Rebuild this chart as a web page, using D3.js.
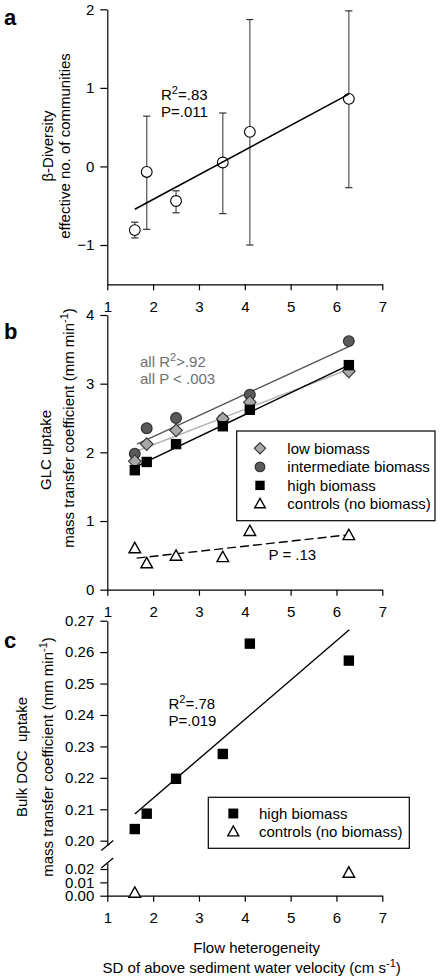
<!DOCTYPE html>
<html><head><meta charset="utf-8">
<script src="https://cdn.jsdelivr.net/npm/d3@7"></script>
<style>
html,body{margin:0;padding:0;background:#fff;}
svg text{font-family:"Liberation Sans",Arial,Helvetica,sans-serif;}
</style></head>
<body>
<svg id="chart" width="442" height="980"></svg>
<script>
// ---------------- DATA ----------------
const flowX = [1.60, 1.86, 2.50, 3.52, 4.11, 6.27];
const xTicks = [1, 2, 3, 4, 5, 6, 7];

// panel a
const betaDiv = [-0.81, -0.07, -0.44, 0.05, 0.44, 0.86];
const betaHi  = [-0.71, 0.64, -0.31, 0.68, 1.87, 1.98];
const betaLo  = [-0.91, -0.80, -0.59, -0.60, -1.00, -0.27];
const yTicksA = [-1, 0, 1, 2];
const fitA = [[1.60, -0.545], [6.27, 0.92]];

// panel b
const glcLow  = [1.87, 2.12, 2.32, 2.49, 2.73, 3.18];
const glcInt  = [1.98, 2.35, 2.50, 2.48, 2.84, 3.62];
const glcHigh = [1.74, 1.86, 2.12, 2.38, 2.62, 3.27];
const glcCtrl = [0.60, 0.38, 0.49, 0.47, 0.85, 0.79];
const yTicksB = [0, 1, 2, 3, 4];
const fitBLow  = [[1.65, 2.02], [6.27, 3.21]];
const fitBInt  = [[1.65, 2.12], [6.27, 3.54]];
const fitBHigh = [[1.65, 1.80], [6.27, 3.27]];
const fitBCtrl = [[1.64, 0.46], [6.27, 0.80]];
const legendB = ["low biomass", "intermediate biomass", "high biomass", "controls (no biomass)"];

// panel c
const docHigh = [0.2037, 0.2086, 0.2197, 0.2276, 0.2627, 0.2573];
const docCtrlX = [1.60, 6.27];
const docCtrl  = [0.002, 0.017];
const yTicksCUpper = [0.20, 0.21, 0.22, 0.23, 0.24, 0.25, 0.26, 0.27];
const yTicksCLower = [0.00, 0.01, 0.02];
const fitC = [[1.60, 0.2085], [6.28, 0.2671]];
const legendC = ["high biomass", "controls (no biomass)"];

// ---------------- SCALES ----------------
const svg = d3.select("#chart");
svg.append("rect").attr("width", 442).attr("height", 980).attr("fill", "#fff");

const FS = 15;
const x = d3.scaleLinear().domain([1, 7]).range([107.3, 382.3]);
const yA = d3.scaleLinear().domain([-1.5, 2]).range([284.3, 9.3]);
const yB = d3.scaleLinear().domain([0, 4]).range([589.7, 315]);
const yCU = d3.scaleLinear().domain([0.1985, 0.27]).range([845.4, 620.7]);
const yCL = d3.scaleLinear().domain([0, 0.0245]).range([895.7, 863]);

function styleAxis(g) {
  g.selectAll("path.domain").attr("stroke", "#000").attr("stroke-width", 1.2);
  g.selectAll(".tick line").attr("stroke", "#000").attr("stroke-width", 1.2);
  g.selectAll("text").attr("font-size", FS).attr("fill", "#000")
    .attr("font-family", '"Liberation Sans",Arial,sans-serif');
}
function xAxis(yPos) {
  const g = svg.append("g").attr("transform", `translate(0,${yPos})`)
    .call(d3.axisBottom(x).tickValues(xTicks).tickFormat(d3.format("d"))
      .tickSize(6).tickSizeOuter(0).tickPadding(11));
  styleAxis(g);
}
function yAxis(scale, ticks, fmt) {
  const g = svg.append("g").attr("transform", `translate(${x.range()[0]},0)`)
    .call(d3.axisLeft(scale).tickValues(ticks).tickFormat(fmt)
      .tickSize(7).tickSizeOuter(0).tickPadding(6));
  styleAxis(g);
  return g;
}

// marker drawing
function marker(g, type, cx, cy, k = 1) {
  if (type === "circleOpen" || type === "circleDark") {
    g.append("circle").attr("cx", cx).attr("cy", cy).attr("r", 5.4 * k)
      .attr("fill", type === "circleOpen" ? "#fff" : "#5a5a5a")
      .attr("stroke", type === "circleOpen" ? "#000" : "#2a2a2a").attr("stroke-width", 1.1);
  } else if (type === "square") {
    const s = 5.2 * k;
    g.append("rect").attr("x", cx - s).attr("y", cy - s).attr("width", 2 * s).attr("height", 2 * s)
      .attr("fill", "#000");
  } else if (type === "diamond") {
    const s = 6.3 * k;
    g.append("path").attr("d", `M${cx},${cy - s}L${cx + s},${cy}L${cx},${cy + s}L${cx - s},${cy}Z`)
      .attr("fill", "#a8a8a8").attr("stroke", "#333").attr("stroke-width", 1.1);
  } else if (type === "triangle") {
    const w = 5.8 * k, h1 = 6.2 * k, h2 = 4.2 * k;
    g.append("path").attr("d", `M${cx},${cy - h1}L${cx + w},${cy + h2}L${cx - w},${cy + h2}Z`)
      .attr("fill", "#fff").attr("stroke", "#000").attr("stroke-width", 1.4);
  }
}
function supText(parent, xPos, yPos, pre, sup, post, color, extra) {
  const t = parent.append("text").attr("x", xPos).attr("y", yPos)
    .attr("font-size", FS).attr("fill", color || "#000");
  if (extra) extra(t);
  t.append("tspan").text(pre);
  t.append("tspan").attr("font-size", 11).attr("dy", -6).text(sup);
  t.append("tspan").attr("font-size", FS).attr("dy", 6).text(post);
  return t;
}
function rotLabel(cx, cy, txt) {
  return svg.append("text").attr("transform", `translate(${cx},${cy}) rotate(-90)`)
    .attr("text-anchor", "middle").attr("font-size", FS).attr("fill", "#000").text(txt);
}
function rotSupLabel(cx, cy, pre, sup, post) {
  const t = svg.append("text").attr("transform", `translate(${cx},${cy}) rotate(-90)`)
    .attr("text-anchor", "middle").attr("font-size", FS).attr("fill", "#000");
  t.append("tspan").text(pre);
  t.append("tspan").attr("font-size", 11).attr("dy", -6).text(sup);
  t.append("tspan").attr("font-size", FS).attr("dy", 6).text(post);
}
function fitLine(pts, scale, color, width, dash) {
  const l = svg.append("line")
    .attr("x1", x(pts[0][0])).attr("y1", scale(pts[0][1]))
    .attr("x2", x(pts[1][0])).attr("y2", scale(pts[1][1]))
    .attr("stroke", color).attr("stroke-width", width);
  if (dash) l.attr("stroke-dasharray", dash);
}
function panelLabel(txt, xPos, yPos) {
  svg.append("text").attr("x", xPos).attr("y", yPos).attr("font-size", 22)
    .attr("font-weight", "bold").attr("fill", "#000").text(txt);
}

// ---------------- PANEL A ----------------
xAxis(yA.range()[0]);
yAxis(yA, yTicksA, d3.format("d"));
panelLabel("a", 4, 25);
rotLabel(52.5, 146, "β-Diversity");
rotLabel(69.5, 146, "effective no. of communities");

const gA = svg.append("g");
flowX.forEach((xv, i) => {
  const cx = x(xv);
  gA.append("line").attr("x1", cx).attr("x2", cx).attr("y1", yA(betaLo[i])).attr("y2", yA(betaHi[i]))
    .attr("stroke", "#6b6b6b").attr("stroke-width", 1.4);
  [betaLo[i], betaHi[i]].forEach(v => {
    gA.append("line").attr("x1", cx - 3.6).attr("x2", cx + 3.6).attr("y1", yA(v)).attr("y2", yA(v))
      .attr("stroke", "#333").attr("stroke-width", 1.2);
  });
});
fitLine(fitA, yA, "#000", 1.6);
flowX.forEach((xv, i) => marker(gA, "circleOpen", x(xv), yA(betaDiv[i])));
supText(svg, 161, 99.5, "R", "2", "=.83");
svg.append("text").attr("x", 161).attr("y", 117).attr("font-size", FS).text("P=.011");

// ---------------- PANEL B ----------------
xAxis(yB.range()[0]);
yAxis(yB, yTicksB, d3.format("d"));
panelLabel("b", 4, 339);
rotLabel(51, 450, "GLC uptake");
rotSupLabel(73.5, 428, "mass transfer coefficient (mm min", "-1", ")");

fitLine(fitBInt, yB, "#555", 1.4);
fitLine(fitBLow, yB, "#b4b4b4", 1.4);
fitLine(fitBHigh, yB, "#000", 1.4);
fitLine(fitBCtrl, yB, "#000", 1.4, "9,4");
const gB = svg.append("g");
flowX.forEach((xv, i) => marker(gB, "circleDark", x(xv), yB(glcInt[i])));
flowX.forEach((xv, i) => marker(gB, "diamond", x(xv), yB(glcLow[i])));
flowX.forEach((xv, i) => marker(gB, "square", x(xv), yB(glcHigh[i])));
flowX.forEach((xv, i) => marker(gB, "triangle", x(xv), yB(glcCtrl[i])));

supText(svg, 140, 366.5, "all R", "2", ">.92", "#707070");
svg.append("text").attr("x", 140).attr("y", 384).attr("font-size", FS).attr("fill", "#707070").text("all P < .003");
svg.append("text").attr("x", 268.5).attr("y", 560).attr("font-size", FS).text("P = .13");

// legend b
const lgB = svg.append("g");
lgB.append("rect").attr("x", 236.7).attr("y", 431).attr("width", 198.3).attr("height", 89.7)
  .attr("fill", "#fff").attr("stroke", "#000").attr("stroke-width", 1.2);
const legTypesB = ["diamond", "circleDark", "square", "triangle"];
legendB.forEach((lab, i) => {
  const cy = 448.3 + i * 18.55;
  marker(lgB, legTypesB[i], 260, cy, 0.9);
  lgB.append("text").attr("x", 287.3).attr("y", cy + 5.2).attr("font-size", FS).text(lab);
});

// ---------------- PANEL C ----------------
xAxis(yCL.range()[0]);
yAxis(yCU, yTicksCUpper, d3.format(".2f"));
yAxis(yCL, yTicksCLower, d3.format(".2f"));
// axis break marks
[yCU.range()[0], yCL.range()[1]].forEach(yy => {
  svg.append("line").attr("x1", x.range()[0] - 6).attr("y1", yy + 5)
    .attr("x2", x.range()[0] + 6).attr("y2", yy - 5)
    .attr("stroke", "#000").attr("stroke-width", 1.3);
});
panelLabel("c", 4, 648);
rotLabel(27, 757, "Bulk DOC  uptake").attr("xml:space", "preserve").style("white-space", "pre");
rotSupLabel(52.5, 757, "mass transfer coefficient (mm min", "-1", ")");

fitLine(fitC, yCU, "#000", 1.4);
const gC = svg.append("g");
flowX.forEach((xv, i) => marker(gC, "square", x(xv), yCU(docHigh[i])));
docCtrlX.forEach((xv, i) => marker(gC, "triangle", x(xv), yCL(docCtrl[i])));
supText(svg, 168.5, 708.5, "R", "2", "=.78");
svg.append("text").attr("x", 168.5).attr("y", 725.5).attr("font-size", FS).text("P=.019");

// legend c
const lgC = svg.append("g");
lgC.append("rect").attr("x", 208.3).attr("y", 797.3).attr("width", 201).attr("height", 51)
  .attr("fill", "#fff").attr("stroke", "#000").attr("stroke-width", 1.2);
const legTypesC = ["square", "triangle"];
legendC.forEach((lab, i) => {
  const cy = 813.5 + i * 18.4;
  marker(lgC, legTypesC[i], 233.3, cy, 0.95);
  lgC.append("text").attr("x", 259).attr("y", cy + 5.2).attr("font-size", FS).text(lab);
});

// x axis title
svg.append("text").attr("x", 256.7).attr("y", 952.5).attr("text-anchor", "middle")
  .attr("font-size", FS).text("Flow heterogeneity");
const xt = svg.append("text").attr("x", 251.7).attr("y", 972.5).attr("text-anchor", "middle").attr("font-size", FS);
xt.append("tspan").text("SD of above sediment water velocity (cm s");
xt.append("tspan").attr("font-size", 11).attr("dy", -6).text("-1");
xt.append("tspan").attr("font-size", FS).attr("dy", 6).text(")");
</script>
</body></html>
